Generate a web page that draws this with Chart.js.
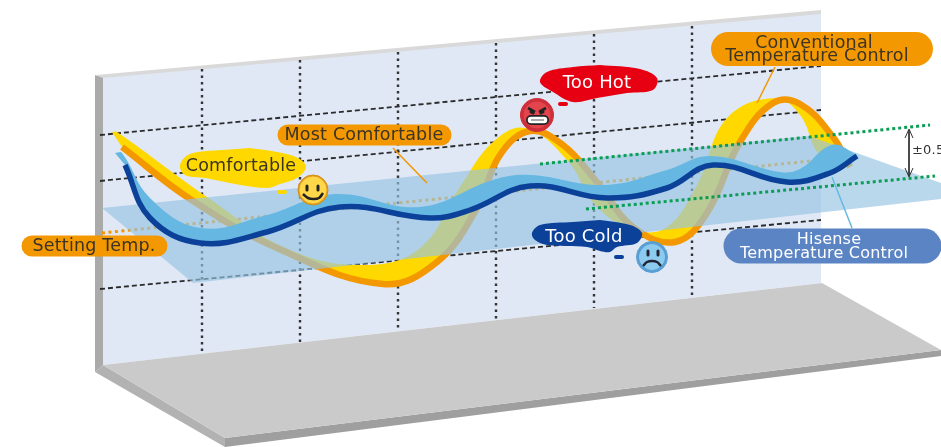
<!DOCTYPE html>
<html>
<head>
<meta charset="utf-8">
<script src="https://cdn.jsdelivr.net/npm/chart.js@4/dist/chart.umd.min.js"></script>
<style>
  html, body { margin: 0; padding: 0; background: #fff; }
  canvas { display: block; filter: blur(0.4px); }
</style>
</head>
<body>
<canvas id="chart" width="941" height="447"></canvas>
<script>
// Curves, as [x, y] in picture units
const conventionalLine = [[122,147],[190,199],[277,248],[383,284],[437,262],[477,208],[500,155],[530,131],[563,145],[597,182],[633,227],[675,242],[707,213],[740,142],[773,103],[800,104],[833,137],[850,167]];
const conventionalBandTop = [[112,132],[117,132],[207,197],[290,250],[365,265],[420,248],[460,187],[493,142],[525,128],[567,160],[597,207],[635,230],[667,227],[697,185],[727,118],[775,98],[800,115],[820,155],[850,167]];
const hisenseLine = [[125,165],[150,218],[200,243],[267,232],[340,207],[430,218],[470,210],[530,186],[607,198],[667,188],[713,165],[787,182],[830,173],[857,156]];
const hisenseBandTop = [[115,153],[122,153],[150,198],[200,228],[267,215],[335,194],[420,207],[493,180],[530,175],[605,185],[667,170],[710,156],[780,172],[800,169],[832,145],[857,155]];
const settingTempLine = [[102,233],[850,157]];
const upperLimit = [[540,164],[930,125]];
const lowerLimit = [[586,209],[935,176]];

// Box the chart stands in
const wallOutline = [[103,78],[821,14],[821,283],[103,365]];
const wallTopEdge = [[96,75],[821,10],[821,15],[103,79]];
const wallLeftEdge = [[95,75],[103,78],[103,365],[95,372]];
const floorTop = [[103,365],[822,283],[941,350],[225,438]];
const floorSide = [[95,372],[103,365],[225,438],[225,447]];
const floorFront = [[225,438],[941,350],[941,356],[225,447]];
const settingPlane = [[102,208],[809,136],[941,183],[941,199],[193,283]];
const gridRows = [[[100,135],[821,66]],[[100,181],[821,110]],[[100,289],[821,220]]];
const gridColumns = [[[202,69],[202,353]],[[300,60],[300,342]],[[398,52],[398,331]],[[496,43],[496,320]],[[594,34],[594,308]],[[692,26],[692,297]]];

// Call-outs
const pillSetting = [[32,246],[157,246]];
const pillMost = [[288,135],[441,135]];
const pillConventional = [[728,49],[916,49]];
const pillHisense = [[741,246],[924,246]];
const leaderMost = [[393,148],[427,183]];
const leaderConventional = [[775,67],[757,103]];
const leaderHisense = [[832,177],[852,228]];
const cloudComfortable = [[250,148],[277,152],[298,158],[306,167],[297,178],[280,184],[268,188],[235,184],[205,178],[185,175],[180,165],[190,154],[223,150],[250,148]];
const cloudHot = [[600,65],[640,69],[657,78],[653,90],[627,93],[597,98],[573,102],[553,92],[540,82],[547,72],[573,67],[600,65]];
const cloudCold = [[600,220],[630,225],[642,233],[637,243],[617,247],[610,252],[600,251],[587,247],[547,245],[535,240],[532,233],[540,225],[573,222],[600,220]];
const puffComfortable = [[279,192],[285,192]];
const puffHot = [[560,104],[566,104]];
const puffCold = [[616,257],[622,257]];
const rangeArrow = [[909,130],[909,176]];
const rangeHeadTop = [[905,138],[909,129],[913,138]];
const rangeHeadBottom = [[905,168],[909,177],[913,168]];

// Faces
const faceHappy = [313,190];
const faceAngry = [537,115];
const faceSad = [652,257];
const happyEyeL = [[307,186],[307,190]];
const happyEyeR = [[318,186],[318,190]];
const happyMouth = [[303,194],[308,198],[313,199],[319,198],[323,193]];
const angryBrowL = [[528,108],[535,112]];
const angryBrowR = [[546,108],[539,112]];
const angryEyeL = [[531,112],[533,113]];
const angryEyeR = [[543,112],[541,113]];
const angryTeeth = [[531,120],[544,120]];
const sadEyeL = [[648,251],[648,255]];
const sadEyeR = [[658,251],[658,255]];
const sadMouth = [[643,266],[647,262],[652,261],[657,262],[661,266]];

const labelTexts = ['Setting Temp.', 'Most Comfortable', 'Comfortable', 'Too Hot', 'Too Cold', 'Conventional', 'Temperature Control', 'Hisense', 'Temperature Control', '±0.5'];
const labelX = [94, 364, 241, 597, 584, 814, 817, 829, 824, 912];
const labelY = [246, 135, 166, 83, 237, 43, 56, 240, 254, 151];
const labelColors = ['#3b3426', '#3b3426', '#3b3426', '#fff', '#fff', '#3b3426', '#3b3426', '#fff', '#fff', '#333'];
const labelSizes = [17.5, 17.5, 17.5, 18, 18, 17.5, 17.5, 16, 16, 13];

function toPoints(pairs) {
    return pairs.map(p => ({ x: p[0], y: p[1] }));
}

function shape(pairs, color, tension) {
    return {
        data: toPoints(pairs),
        fill: 'shape',
        backgroundColor: color,
        borderWidth: 0,
        borderColor: 'transparent',
        pointRadius: 0,
        tension: tension || 0
    };
}

function stroke(pairs, color, width, extra) {
    return Object.assign({
        data: toPoints(pairs),
        fill: false,
        borderColor: color,
        borderWidth: width,
        pointRadius: 0,
        tension: 0
    }, extra || {});
}

function pill(pairs, color, height) {
    return stroke(pairs, color, height, { borderCapStyle: 'round' });
}

function disc(center, color, edge, radius) {
    return {
        data: toPoints([center]),
        showLine: false,
        pointRadius: radius,
        pointBackgroundColor: color,
        pointBorderColor: edge,
        pointBorderWidth: 1
    };
}

// Listed from the back to the front
const layers = [
    shape(wallTopEdge, '#d9d9d9'),
    shape(wallLeftEdge, '#a9aaa9'),
    shape(wallOutline, '#e0e8f6'),
    shape(floorSide, '#b1b2b1'),
    shape(floorFront, '#9f9f9f'),
    shape(floorTop, '#cacaca')
];

gridRows.forEach(r => layers.push(stroke(r, '#2b2b2b', 1.8, { borderDash: [5, 3] })));
gridColumns.forEach(c => layers.push(stroke(c, '#333', 2.4, { borderDash: [2.5, 4] })));

layers.push(
    stroke(settingTempLine, '#f39800', 3, { borderDash: [3, 3.5] }),
    shape(conventionalBandTop.concat(conventionalLine.slice().reverse()), '#ffd800', 0.4),
    stroke(conventionalLine, '#f39800', 6.5, { tension: 0.4 }),
    shape(settingPlane, 'rgba(150,196,226,0.66)'),
    shape(hisenseBandTop.concat(hisenseLine.slice().reverse()), '#66b8e2', 0.4),
    stroke(hisenseLine, '#0b4199', 5.5, { tension: 0.4 }),
    stroke(upperLimit, '#0a9e55', 3, { borderDash: [3, 3] }),
    stroke(lowerLimit, '#0a9e55', 3, { borderDash: [3, 3] }),
    stroke(leaderMost, '#f39800', 1.5),
    stroke(leaderConventional, '#f39800', 1.5),
    stroke(leaderHisense, '#66b8e2', 1.5),
    stroke(rangeArrow, '#333', 1),
    stroke(rangeHeadTop, '#333', 1),
    stroke(rangeHeadBottom, '#333', 1),
    pill(pillSetting, '#f39800', 21),
    pill(pillMost, '#f39800', 21),
    pill(pillConventional, '#f39800', 34),
    pill(pillHisense, '#5b84c4', 35),
    shape(cloudComfortable, '#ffd800', 0.35),
    pill(puffComfortable, '#ffd800', 4),
    shape(cloudHot, '#e60012', 0.35),
    pill(puffHot, '#e60012', 4),
    shape(cloudCold, '#0b4199', 0.35),
    pill(puffCold, '#0b4199', 4),
    disc(faceHappy, '#e8a020', '#d09018', 15),
    disc(faceHappy, '#ffd84a', '#ffd84a', 13),
    pill(happyEyeL, '#222', 3),
    pill(happyEyeR, '#222', 3),
    stroke(happyMouth, '#222', 2.6, { tension: 0.4 }),
    disc(faceAngry, '#cf2f3a', '#cf2f3a', 16.5),
    disc(faceAngry, '#e4454c', '#e4454c', 13),
    stroke(angryBrowL, '#222', 2.6),
    stroke(angryBrowR, '#222', 2.6),
    pill(angryEyeL, '#222', 3),
    pill(angryEyeR, '#222', 3),
    pill(angryTeeth, '#222', 10),
    pill(angryTeeth, '#fff', 6.5),
    stroke(angryTeeth, '#555', 1),
    disc(faceSad, '#5a9fd4', '#5a9fd4', 15.5),
    disc(faceSad, '#8ccaee', '#8ccaee', 12.5),
    pill(sadEyeL, '#223', 3),
    pill(sadEyeR, '#223', 3),
    stroke(sadMouth, '#223', 2.4, { tension: 0.4 })
);

const textPlugin = {
    id: 'calloutText',
    afterDatasetsDraw(chart) {
        const { ctx, scales } = chart;
        ctx.save();
        ctx.textBaseline = 'middle';
        ctx.letterSpacing = '0.2px';
        labelTexts.forEach((t, i) => {
            ctx.font = labelSizes[i] + 'px "DejaVu Sans"';
            ctx.fillStyle = labelColors[i];
            ctx.textAlign = t === '±0.5' ? 'left' : 'center';
            ctx.fillText(t, scales.x.getPixelForValue(labelX[i]), scales.y.getPixelForValue(labelY[i]));
        });
        ctx.restore();
    }
};

new Chart(document.getElementById('chart'), {
    type: 'line',
    data: { datasets: layers.slice().reverse() },
    plugins: [textPlugin],
    options: {
        responsive: false,
        animation: false,
        events: [],
        layout: { padding: 0, autoPadding: false },
        plugins: { legend: { display: false }, tooltip: { enabled: false }, title: { display: false } },
        scales: {
            x: { type: 'linear', display: false, min: 0, max: 941 },
            y: { type: 'linear', display: false, min: 0, max: 447, reverse: true }
        }
    }
});
</script>
</body>
</html>
